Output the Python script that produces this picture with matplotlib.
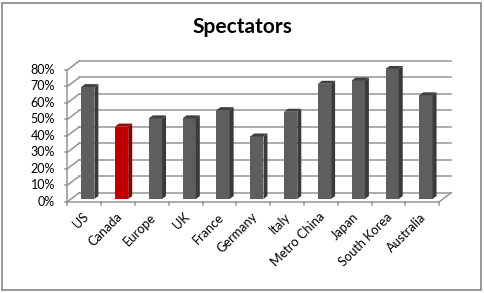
import matplotlib
matplotlib.use("Agg")
import matplotlib.pyplot as plt
from matplotlib.patches import Polygon, Rectangle

categories = ["US", "Canada", "Europe", "UK", "France", "Germany", "Italy",
              "Metro China", "Japan", "South Korea", "Australia"]
values = [68, 44, 49, 49, 54, 38, 53, 70, 72, 79, 63]
highlight = "Canada"
yticks = [0, 10, 20, 30, 40, 50, 60, 70, 80]
ytick_labels = ["0%", "10%", "20%", "30%", "40%", "50%", "60%", "70%", "80%"]
title = "Spectators"

W, H = 485, 293
fig = plt.figure(figsize=(W / 100, H / 100), dpi=100)
plt.rcParams['font.family'] = ['Lato', 'DejaVu Sans']

# front plane of the 3D box
x0, x1 = 67.3, 439.3
y0, y1 = 201.7, 70.0
ax = fig.add_axes([x0 / W, 1 - y0 / H, (x1 - x0) / W, (y0 - y1) / H])
n = len(categories)
ax.set_xlim(0, n)
ax.set_ylim(0, 80)
ax.axis("off")

px_x = (x1 - x0) / n
px_y = (y0 - y1) / 80
DX = 12 / px_x
DY = 9 / px_y

grid_c = "#949494"
lw = 1.1
# back wall gridlines and left wall diagonals
for v in yticks:
    ax.plot([DX, n + DX], [v + DY, v + DY], color=grid_c, lw=lw, clip_on=False, zorder=1)
    ax.plot([0, DX], [v, v + DY], color=grid_c, lw=lw, clip_on=False, zorder=1)
    ax.plot([-0.07, 0], [v, v], color=grid_c, lw=lw, clip_on=False, zorder=1)
# front axis and floor
ax.plot([0, 0], [0, 80], color=grid_c, lw=lw, clip_on=False, zorder=1)
ax.plot([0, n], [0, 0], color=grid_c, lw=lw, clip_on=False, zorder=1)
ax.plot([n, n + DX], [0, DY], color=grid_c, lw=lw, clip_on=False, zorder=1)
for i in range(n + 1):
    ax.plot([i, i], [0, -1.9], color=grid_c, lw=lw, clip_on=False, zorder=1)

# bars
f0 = 0.30
depth = 0.33
bw = 0.39
for i, (cat, v) in enumerate(zip(categories, values)):
    if cat == highlight:
        cf, cs, ct = "#c00000", "#8a0000", "#a00000"
    else:
        cf, cs, ct = "#5e5e5e", "#3a3a3a", "#404040"
    cx = i + 0.5 + f0 * DX
    by = f0 * DY
    l, r = cx - bw / 2, cx + bw / 2
    ddx, ddy = depth * DX, depth * DY
    ax.bar(cx, v, width=bw, bottom=by, color=cf, edgecolor="none", zorder=3, clip_on=False)
    side = Polygon([(r, by), (r + ddx, by + ddy), (r + ddx, by + v + ddy), (r, by + v)],
                   closed=True, facecolor=cs, edgecolor="none", zorder=3, clip_on=False)
    top = Polygon([(l, by + v), (l + ddx, by + v + ddy), (r + ddx, by + v + ddy), (r, by + v)],
                  closed=True, facecolor=ct, edgecolor="none", zorder=3, clip_on=False)
    ax.add_patch(side)
    ax.add_patch(top)

# y tick labels
for v, lab in zip(yticks, ytick_labels):
    ax.text(-0.36, v, lab, ha="right", va="center", fontsize=9, color="#000000", clip_on=False)

# x tick labels
for i, cat in enumerate(categories):
    ax.text(i + 0.43, -5.5, cat, ha="right", va="top", rotation=45,
            rotation_mode="anchor", fontsize=9.2, color="#000000", clip_on=False)

fig.text(0.5, 1 - 27 / H, title, ha="center", va="center", fontsize=15, fontweight="bold")

fig.add_artist(Rectangle((2.5 / W, 3.5 / H), 478.5 / W, 286.5 / H, transform=fig.transFigure,
                         fill=False, edgecolor="#868686", lw=1.2))

fig.savefig("out.png", dpi=100)
